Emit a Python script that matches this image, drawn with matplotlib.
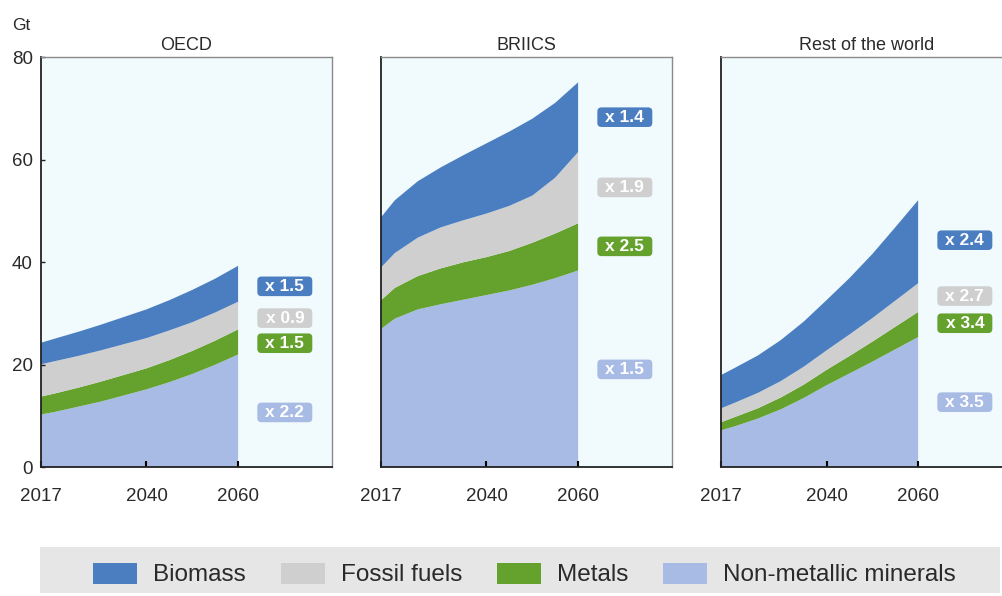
import numpy as np
import matplotlib.pyplot as plt
from matplotlib.patches import Patch, Rectangle, FancyBboxPatch

plt.rcParams['font.family'] = ['Liberation Sans', 'DejaVu Sans']

# --- Data (Gt) ---
years = [2017, 2020, 2025, 2030, 2035, 2040, 2045, 2050, 2055, 2060]
categories = ['Biomass', 'Fossil fuels', 'Metals', 'Non-metallic minerals']
regions = ['OECD', 'BRIICS', 'Rest of the world']

oecd_nonmet = [10.3, 10.8, 11.8, 12.8, 14.0, 15.2, 16.6, 18.2, 20.0, 22.0]
oecd_metals = [3.5, 3.6, 3.7, 3.9, 4.0, 4.1, 4.3, 4.5, 4.7, 4.9]
oecd_fossil = [6.3, 6.3, 6.2, 6.1, 6.0, 5.9, 5.8, 5.6, 5.5, 5.4]
oecd_biomass = [4.2, 4.4, 4.7, 5.0, 5.3, 5.6, 5.9, 6.3, 6.6, 7.0]

briics_nonmet = [27.0, 29.0, 30.8, 31.8, 32.7, 33.6, 34.5, 35.6, 36.9, 38.4]
briics_metals = [5.6, 6.0, 6.5, 7.0, 7.3, 7.4, 7.7, 8.2, 8.7, 9.2]
briics_fossil = [6.4, 6.8, 7.5, 8.0, 8.2, 8.5, 8.8, 9.2, 10.9, 13.9]
briics_biomass = [9.8, 10.3, 11.0, 11.7, 12.7, 13.7, 14.5, 15.0, 14.6, 13.6]

row_nonmet = [7.2, 8.0, 9.5, 11.3, 13.5, 16.0, 18.3, 20.6, 23.0, 25.4]
row_metals = [1.6, 1.8, 2.0, 2.3, 2.6, 3.0, 3.4, 3.9, 4.4, 4.9]
row_fossil = [2.7, 2.8, 3.0, 3.2, 3.5, 3.8, 4.2, 4.6, 5.1, 5.6]
row_biomass = [6.5, 6.8, 7.3, 8.0, 8.8, 9.8, 11.0, 12.5, 14.3, 16.2]

# growth multipliers 2017-2060 (biomass, fossil, metals, non-metallic)
oecd_mult = ['x 1.5', 'x 0.9', 'x 1.5', 'x 2.2']
briics_mult = ['x 1.4', 'x 1.9', 'x 2.5', 'x 1.5']
row_mult = ['x 2.4', 'x 2.7', 'x 3.4', 'x 3.5']
# vertical position of each multiplier tag (Gt)
oecd_tag_y = [35.3, 29.1, 24.2, 10.7]
briics_tag_y = [68.3, 54.6, 43.1, 19.1]
row_tag_y = [44.3, 33.4, 28.1, 12.7]

colors = ['#4a7ec0', '#cfcfcf', '#64a12d', '#a7bbe4']
bg = '#f1fafd'

panels = [
    (oecd_nonmet, oecd_metals, oecd_fossil, oecd_biomass, oecd_mult, oecd_tag_y),
    (briics_nonmet, briics_metals, briics_fossil, briics_biomass, briics_mult, briics_tag_y),
    (row_nonmet, row_metals, row_fossil, row_biomass, row_mult, row_tag_y),
]

fig = plt.figure(figsize=(10.03, 5.96), dpi=100)
lefts = [0.041, 0.380, 0.719]

for i, (nm, me, fo, bi, mult, tag_y) in enumerate(panels):
    ax = fig.add_axes([lefts[i], 0.216, 0.290, 0.688])
    ax.set_facecolor(bg)
    ax.stackplot(years, nm, me, fo, bi,
                 colors=[colors[3], colors[2], colors[1], colors[0]], linewidth=0)
    ax.set_xlim(2017, 2080.5)
    ax.set_ylim(0, 80)
    ax.set_xticks([2017, 2040, 2060])
    ax.set_xticklabels(['2017', '2040', '2060'], fontsize=13.5, color='#2a2a2a')
    ax.tick_params(axis='x', direction='in', length=4, width=1.5, pad=15)
    ax.set_yticks([0, 20, 40, 60, 80])
    if i == 0:
        ax.tick_params(axis='y', direction='in', length=3, width=1, labelsize=13.5,
                       pad=6, labelcolor='#2a2a2a', color='#222222')
    else:
        ax.tick_params(axis='y', length=0, labelleft=False)
    for s in ['left', 'bottom']:
        ax.spines[s].set_color('#222222')
        ax.spines[s].set_linewidth(1.3)
    for s in ['top', 'right']:
        ax.spines[s].set_color('#8a8a8a')
        ax.spines[s].set_linewidth(1.0)
    ax.set_title(regions[i], fontsize=13, color='#2a2a2a', pad=5)

    # multiplier tags: rounded boxes, ~57 x 20 px
    for txt, y, c in zip(mult, tag_y, colors):
        ax.add_patch(FancyBboxPatch((2070.2 - 5.6, y - 1.55), 11.2, 3.1,
                                    boxstyle='round,pad=0.4,rounding_size=0.9',
                                    mutation_aspect=0.9, fc=c, ec='none', zorder=3))
        ax.text(2070.2, y, txt, ha='center', va='center', fontsize=12.5,
                fontweight='bold', color='white', zorder=4)

fig.text(0.012, 0.958, 'Gt', fontsize=12.5, color='#2a2a2a', ha='left', va='center')

# legend band
fig.patches.append(Rectangle((0.040, 0.005), 0.957, 0.077, transform=fig.transFigure,
                             facecolor='#e6e6e6', edgecolor='none', zorder=0))
handles = [Patch(facecolor=c, edgecolor='none') for c in colors]
fig.legend(handles, categories, loc='center', bbox_to_anchor=(0.523, 0.036), ncol=4,
           frameon=False, fontsize=17.5, handlelength=1.8, handleheight=0.95,
           columnspacing=1.45, handletextpad=0.65, labelcolor='#2a2a2a')

fig.savefig('out.png', dpi=100, facecolor='white')
